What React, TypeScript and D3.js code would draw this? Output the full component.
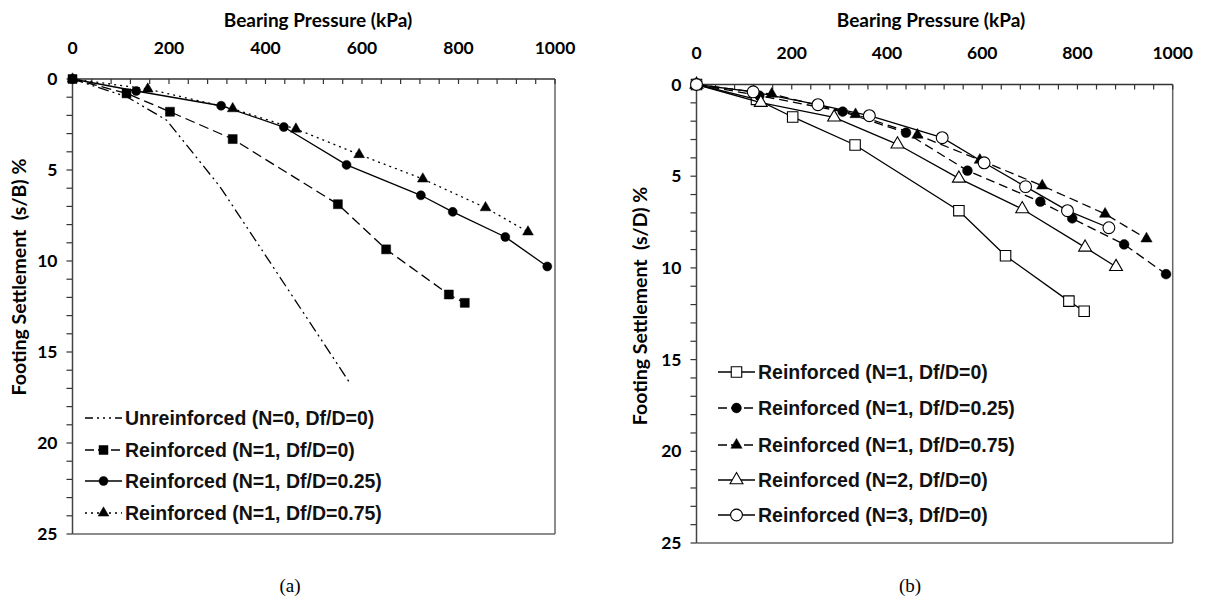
import React, { useEffect, useRef } from 'react';
import * as d3 from 'd3';

// axis ticks
const pressureTicks = [0, 200, 400, 600, 800, 1000];
const settlementTicks = [0, 5, 10, 15, 20, 25];

// (a) settlement s/B (%) vs bearing pressure (kPa)
const aUnreinforced = [[0, 0], [112, 0.97], [195, 2.26], [306, 5.93], [540, 15.3], [577, 16.8]];
const aN1Df0 = [[0, 0], [112, 0.79], [202, 1.8], [332, 3.3], [550, 6.88], [650, 9.36], [780, 11.84], [813, 12.3]];
const aN1Df025 = [[0, 0], [132, 0.66], [308, 1.47], [438, 2.64], [568, 4.72], [722, 6.39], [788, 7.3], [897, 8.68], [984, 10.3]];
const aN1Df075 = [[0, 0], [156, 0.55], [332, 1.63], [463, 2.75], [594, 4.15], [726, 5.49], [856, 7.07], [944, 8.4]];

// (b) settlement s/D (%) vs bearing pressure (kPa)
const bN1Df0 = [[0, 0], [126, 0.81], [202, 1.77], [333, 3.3], [551, 6.88], [649, 9.34], [782, 11.81], [814, 12.36]];
const bN1Df025 = [[0, 0], [132, 0.61], [307, 1.48], [440, 2.63], [569, 4.7], [722, 6.39], [789, 7.3], [898, 8.72], [986, 10.34]];
const bN1Df075 = [[0, 0], [158, 0.52], [334, 1.63], [464, 2.75], [595, 4.12], [726, 5.52], [858, 7.06], [945, 8.41]];
const bN2Df0 = [[0, 0], [135, 0.99], [289, 1.79], [422, 3.26], [551, 5.12], [684, 6.79], [816, 8.88], [881, 9.94]];
const bN3Df0 = [[0, 0], [119, 0.4], [255, 1.1], [363, 1.7], [516, 2.9], [604, 4.27], [691, 5.57], [779, 6.88], [866, 7.81]];

const AXIS_FONT = 'Lato, "Open Sans", sans-serif';
const LEGEND_FONT = '"Liberation Sans", Arial, sans-serif';

type Series = {
  label: string;
  data: number[][];
  dash: string | null;
  legendDash: string | null;
  symbol: d3.SymbolType | null;
  size: number;
  filled: boolean;
};

type Panel = {
  x0: number; x1: number; y0: number; y1: number;
  titleX: number; tickLabelY: number;
  yLabel: string; yLabelX: number; yLabelCY: number;
  series: Series[];
  legendX: number; legendRows: number[];
  caption: string; captionX: number;
};

const panels: Panel[] = [
  {
    x0: 72.5, x1: 555, y0: 79, y1: 534,
    titleX: 318, tickLabelY: 48,
    yLabel: 'Footing Settlement  (s/B) %', yLabelX: 19, yLabelCY: 277,
    legendX: 85, legendRows: [418, 450, 481, 513],
    caption: '(a)', captionX: 290,
    series: [
      { label: 'Unreinforced (N=0, Df/D=0)', data: aUnreinforced, dash: '11,4,2,4,2,4', legendDash: '8,4,2,4,2,4,2,4', symbol: null, size: 0, filled: true },
      { label: 'Reinforced (N=1, Df/D=0)', data: aN1Df0, dash: '10,5', legendDash: '9,4', symbol: d3.symbolSquare, size: 81, filled: true },
      { label: 'Reinforced (N=1, Df/D=0.25)', data: aN1Df025, dash: null, legendDash: null, symbol: d3.symbolCircle, size: 64, filled: true },
      { label: 'Reinforced (N=1, Df/D=0.75)', data: aN1Df075, dash: '2,4', legendDash: '2,4', symbol: d3.symbolTriangle, size: 50, filled: true },
    ],
  },
  {
    x0: 696.5, x1: 1172.7, y0: 84.5, y1: 543,
    titleX: 931, tickLabelY: 53,
    yLabel: 'Footing Settlement  (s/D) %', yLabelX: 640, yLabelCY: 306,
    legendX: 718, legendRows: [372, 408, 445, 480, 515],
    caption: '(b)', captionX: 910,
    series: [
      { label: 'Reinforced (N=1, Df/D=0)', data: bN1Df0, dash: null, legendDash: null, symbol: d3.symbolSquare, size: 110, filled: false },
      { label: 'Reinforced (N=1, Df/D=0.25)', data: bN1Df025, dash: '9,5', legendDash: '9,4', symbol: d3.symbolCircle, size: 75, filled: true },
      { label: 'Reinforced (N=1, Df/D=0.75)', data: bN1Df075, dash: '9,5', legendDash: '9,4', symbol: d3.symbolTriangle, size: 55, filled: true },
      { label: 'Reinforced (N=2, Df/D=0)', data: bN2Df0, dash: null, legendDash: null, symbol: d3.symbolTriangle, size: 72, filled: false },
      { label: 'Reinforced (N=3, Df/D=0)', data: bN3Df0, dash: null, legendDash: null, symbol: d3.symbolCircle, size: 110, filled: false },
    ],
  },
];

function drawPanel(svg: d3.Selection<SVGSVGElement, unknown, null, undefined>, p: Panel) {
  const x = d3.scaleLinear().domain([0, 1000]).range([p.x0, p.x1]);
  const y = d3.scaleLinear().domain([0, 25]).range([p.y0, p.y1]);
  const g = svg.append('g');

  // frame: right + bottom border
  g.append('line').attr('x1', p.x1).attr('x2', p.x1).attr('y1', p.y0).attr('y2', p.y1)
    .attr('stroke', '#666').attr('stroke-width', 1.5);
  g.append('line').attr('x1', p.x0).attr('x2', p.x1).attr('y1', p.y1).attr('y2', p.y1)
    .attr('stroke', '#666').attr('stroke-width', 1.5);

  // top axis with minor ticks every 40 kPa, pointing inward
  const xMinor = d3.range(0, 1001, 40);
  g.append('g').selectAll('line').data(xMinor).join('line')
    .attr('x1', d => x(d)).attr('x2', d => x(d)).attr('y1', p.y0).attr('y2', p.y0 + 5)
    .attr('stroke', '#333').attr('stroke-width', 1.2);
  g.append('line').attr('x1', p.x0).attr('x2', p.x1).attr('y1', p.y0).attr('y2', p.y0)
    .attr('stroke', '#333').attr('stroke-width', 1.5);
  g.append('g').selectAll('text').data(pressureTicks).join('text')
    .attr('x', d => x(d)).attr('y', p.tickLabelY).attr('dy', '0.35em')
    .attr('text-anchor', 'middle').attr('font-family', AXIS_FONT).attr('font-weight', 'bold')
    .attr('font-size', 17.5).text(d => d);
  g.append('text').attr('x', p.titleX).attr('y', 20).attr('dy', '0.35em')
    .attr('text-anchor', 'middle').attr('font-family', AXIS_FONT).attr('font-weight', 'bold')
    .attr('font-size', 19).text('Bearing Pressure (kPa)');

  // left axis, ticks outward every 1 %
  const yMinor = d3.range(0, 26, 1);
  g.append('g').selectAll('line').data(yMinor).join('line')
    .attr('x1', p.x0 - 6).attr('x2', p.x0).attr('y1', d => y(d)).attr('y2', d => y(d))
    .attr('stroke', '#333').attr('stroke-width', 1.2);
  g.append('line').attr('x1', p.x0).attr('x2', p.x0).attr('y1', p.y0).attr('y2', p.y1)
    .attr('stroke', '#444').attr('stroke-width', 1.5);
  g.append('g').selectAll('text').data(settlementTicks).join('text')
    .attr('x', p.x0 - 15).attr('y', d => y(d)).attr('dy', '0.35em')
    .attr('text-anchor', 'end').attr('font-family', AXIS_FONT).attr('font-weight', 'bold')
    .attr('font-size', 17.5).text(d => d);
  g.append('text')
    .attr('transform', `translate(${p.yLabelX},${p.yLabelCY}) rotate(-90)`)
    .attr('dy', '0.35em').attr('text-anchor', 'middle').attr('font-family', AXIS_FONT)
    .attr('font-weight', 'bold').attr('font-size', 19.5).attr('xml:space', 'preserve')
    .text(p.yLabel);

  // series
  const line = d3.line<number[]>().x(d => x(d[0])).y(d => y(d[1]));
  p.series.forEach(s => {
    g.append('path').attr('d', line(s.data)).attr('fill', 'none').attr('stroke', '#000')
      .attr('stroke-width', 1.3).attr('stroke-dasharray', s.dash ?? null);
    if (s.symbol) {
      const sym = d3.symbol().type(s.symbol).size(s.size);
      g.append('g').selectAll('path').data(s.data).join('path')
        .attr('transform', d => `translate(${x(d[0])},${y(d[1])})`)
        .attr('d', sym()).attr('fill', s.filled ? '#000' : '#fff')
        .attr('stroke', '#000').attr('stroke-width', s.filled ? 0.5 : 1.1);
    }
  });

  // legend
  p.series.forEach((s, i) => {
    const ly = p.legendRows[i];
    const lg = g.append('g');
    lg.append('line').attr('x1', p.legendX).attr('x2', p.legendX + 37).attr('y1', ly).attr('y2', ly)
      .attr('stroke', '#000').attr('stroke-width', 1.5).attr('stroke-dasharray', s.legendDash ?? null);
    if (s.symbol) {
      const sym = d3.symbol().type(s.symbol).size(s.size);
      lg.append('path').attr('transform', `translate(${p.legendX + 18.5},${ly})`)
        .attr('d', sym()).attr('fill', s.filled ? '#000' : '#fff')
        .attr('stroke', '#000').attr('stroke-width', s.filled ? 0.5 : 1.1);
    }
    lg.append('text').attr('x', p.legendX + 40).attr('y', ly).attr('dy', '0.36em')
      .attr('font-family', LEGEND_FONT).attr('font-weight', 'bold').attr('font-size', 19.5)
      .attr('fill', '#111').text(s.label);
  });

  // caption
  g.append('text').attr('x', p.captionX).attr('y', 585).attr('dy', '0.35em')
    .attr('text-anchor', 'middle').attr('font-family', '"Liberation Serif", "Times New Roman", serif')
    .attr('font-size', 19).text(p.caption);
}

const App = () => {
  const svgRef = useRef<SVGSVGElement | null>(null);

  useEffect(() => {
    const svg = d3.select(svgRef.current as SVGSVGElement);
    svg.selectAll('*').remove();
    panels.forEach(p => drawPanel(svg, p));
  }, []);

  return (
    <div style={{ position: 'absolute', left: 0, top: 0 }}>
      <svg ref={svgRef} width={1208} height={600} style={{ display: 'block', background: '#fff' }} />
    </div>
  );
};

export default App;
